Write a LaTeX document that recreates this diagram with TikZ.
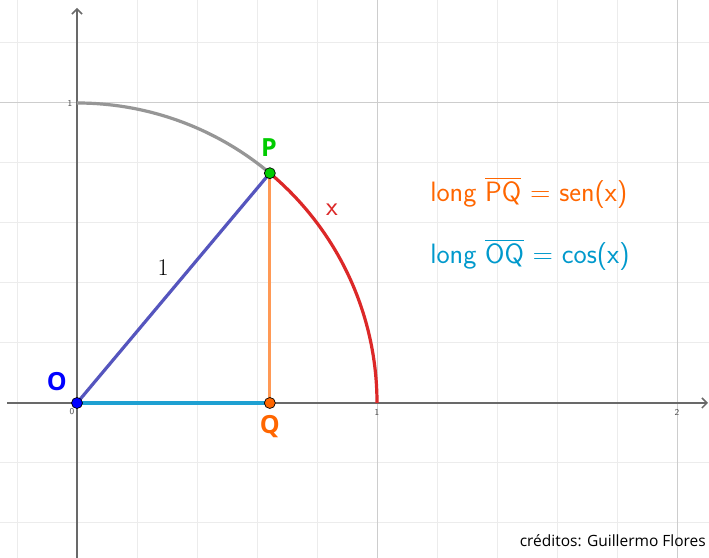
\documentclass[tikz,border=0pt]{standalone}
\usepackage{fontspec}
\usetikzlibrary{arrows.meta}
\newfontfamily\labfont{Open Sans}
\newcommand\ovln[1]{\setbox0\hbox{#1}\rlap{\raisebox{\dimexpr\ht0+2.5pt\relax}{\rule{\wd0}{1.4pt}}}\copy0\relax}
\definecolor{gminor}{RGB}{236,236,236}
\definecolor{gmajor}{RGB}{205,205,205}
\definecolor{axisgray}{RGB}{105,105,105}
\definecolor{arcgray}{RGB}{150,150,150}
\definecolor{arcred}{RGB}{220,40,40}
\definecolor{segblue}{RGB}{85,85,190}
\definecolor{segcyan}{RGB}{30,160,210}
\definecolor{segorange}{RGB}{255,153,85}
\definecolor{txtorange}{RGB}{255,102,0}
\definecolor{txtblue}{RGB}{0,153,204}
\definecolor{ptgreen}{RGB}{0,204,0}
\definecolor{ptblue}{RGB}{0,0,255}
\begin{document}
\begin{tikzpicture}[x=300pt,y=300pt,
  minorline/.style={draw=gminor,line width=1pt},
  majorline/.style={draw=gmajor,line width=1pt},
  axisline/.style={draw=axisgray,line width=2pt,-{Straight Barb[length=5pt,width=10pt,line width=1.5pt]}},
  curve/.style={line width=3.2pt},
  dot/.style={circle,draw=black,line width=0.7pt,inner sep=0pt,minimum size=11pt},
  ptlabel/.style={font=\labfont\bfseries\fontsize{25}{27}\selectfont},
  ticklab/.style={font=\sffamily\fontsize{9}{10}\selectfont,text=black!70,inner sep=1pt},
  formula/.style={font=\sffamily\fontsize{28}{31}\selectfont,anchor=west,inner sep=0pt}
]
\useasboundingbox[fill=white] (-0.25667,-0.51667) rectangle (2.10667,1.34333);
% minor grid
\foreach \gx in {-0.2,0.2,0.4,0.6,0.8,1.2,1.4,1.6,1.8,2.2}
  \draw[minorline] (\gx,-0.51667) -- (\gx,1.34333);
\foreach \gy in {-0.4,-0.2,0.2,0.4,0.6,0.8,1.2}
  \draw[minorline] (-0.25667,\gy) -- (2.10667,\gy);
% major grid
\foreach \gx in {1,2}
  \draw[majorline] (\gx,-0.51667) -- (\gx,1.34333);
\draw[majorline] (-0.25667,1) -- (2.10667,1);
% axes
\coordinate (xs) at (-0.2333,0);
\coordinate (xe) at (2.1033,0);
\coordinate (ys) at (0,-0.51667);
\coordinate (ye) at (0,1.3167);
\draw[axisline] (xs) -- (xe);
\draw[axisline] (ys) -- (ye);
% tick labels
\node[ticklab,anchor=east] (t0) at (-0.005,-0.027) {0};
\node[ticklab] (t1) at (1,-0.03) {1};
\node[ticklab] (t2) at (2,-0.03) {2};
\node[ticklab,anchor=east] (ty) at (-0.012,1) {1};
% points
\coordinate (O) at (0,0);
\coordinate (P) at (50:1);
\coordinate (Q) at ({cos(50)},0);
\coordinate (B) at (0,1);
\coordinate (A) at (1,0);
% curves
\draw[curve,arcgray] (B) arc[start angle=90,end angle=50,radius=1];
\draw[curve,arcred] (P) arc[start angle=50,end angle=0,radius=1];
\draw[curve,segcyan] (O) -- (Q);
\draw[curve,segorange] (P) -- (Q);
\draw[curve,segblue] (O) -- (P);
\node[dot,fill=ptblue] (Odot) at (O) {};
\node[dot,fill=ptgreen] (Pdot) at (P) {};
\node[dot,fill=txtorange] (Qdot) at (Q) {};
% labels
\node[ptlabel,text=ptblue] (Olab) at (-0.067,0.073) {O};
\node[ptlabel,text=ptgreen] (Plab) at (0.64,0.853) {P};
\node[ptlabel,text=txtorange] (Qlab) at (0.643,-0.077) {Q};
\node[font=\sffamily\fontsize{27}{29}\selectfont,text=arcred] (xlab) at (0.85,0.645) {x};
\node[font=\fontsize{24}{26}\selectfont] (onelab) at (0.287,0.453) {1};
\node[formula,text=txtorange] (f1) at (1.177,0.70) {long \ovln{PQ} = sen(x)};
\node[formula,text=txtblue] (f2) at (1.177,0.493) {long \ovln{OQ} = cos(x)};
\node[font=\labfont\fontsize{15.5}{17}\selectfont,anchor=east,inner sep=0pt] (cred) at (2.0967,-0.46) {créditos: Guillermo Flores};
\end{tikzpicture}
\end{document}
